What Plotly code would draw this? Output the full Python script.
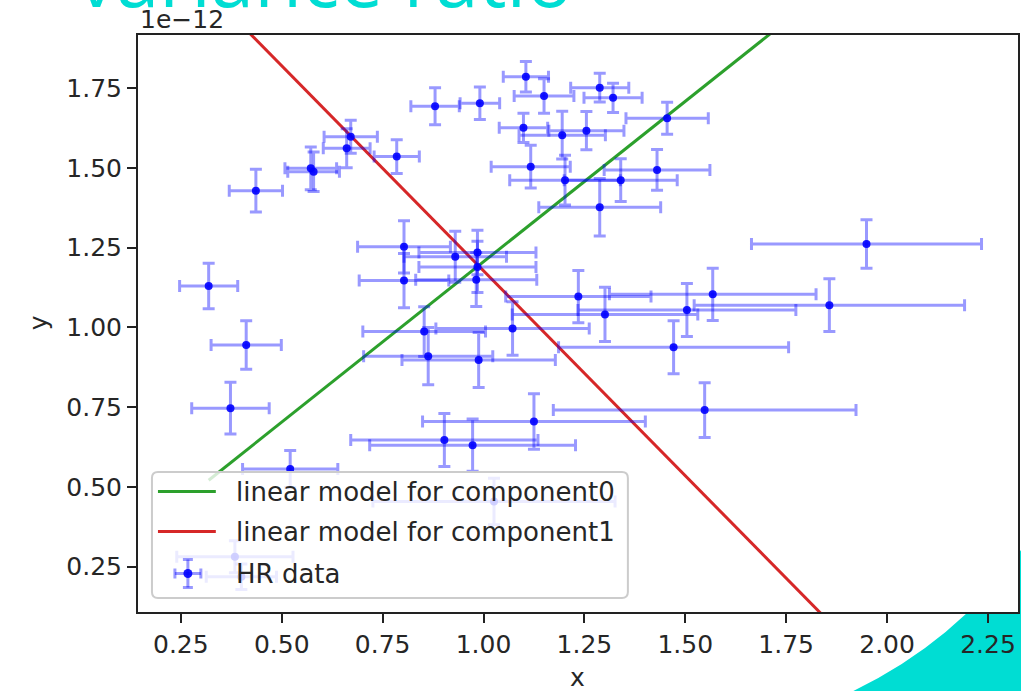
import plotly.graph_objects as go

# ---- HR data (y in units of 1e-12) ----
x_vals = [0.436, 0.319, 0.572, 0.579, 0.671, 0.661, 0.785, 0.880, 0.803, 0.803,
          0.930, 0.985, 0.985, 0.982, 1.105, 1.150, 0.991, 1.288, 1.321, 1.099,
          1.195, 1.255, 1.455, 1.117, 1.202, 1.340, 1.430, 1.288, 1.949, 1.857,
          1.235, 1.568, 1.301, 1.504, 1.072, 0.988, 0.853, 0.863, 1.471, 1.548,
          1.125, 0.903, 0.973, 1.026, 0.412, 0.373, 0.521, 0.384, 0.400]
y_vals = [1.429, 1.130, 1.499, 1.488, 1.598, 1.562, 1.536, 1.694, 1.253, 1.147,
          1.222, 1.235, 1.190, 1.150, 1.786, 1.726, 1.703, 1.752, 1.720, 1.626,
          1.603, 1.617, 1.656, 1.504, 1.462, 1.462, 1.494, 1.377, 1.262, 1.070,
          1.097, 1.104, 1.041, 1.055, 0.997, 0.898, 0.987, 0.910, 0.938, 0.741,
          0.705, 0.647, 0.631, 0.454, 0.945, 0.747, 0.556, 0.281, 0.218]
x_err = [0.066, 0.072, 0.064, 0.064, 0.066, 0.058, 0.056, 0.060, 0.115, 0.111,
         0.127, 0.145, 0.145, 0.150, 0.056, 0.074, 0.049, 0.072, 0.072, 0.060,
         0.107, 0.093, 0.102, 0.098, 0.137, 0.140, 0.131, 0.151, 0.285, 0.335,
         0.180, 0.256, 0.230, 0.270, 0.190, 0.190, 0.152, 0.160, 0.285, 0.375,
         0.276, 0.232, 0.255, 0.300, 0.087, 0.096, 0.118, 0.144, 0.087]
y_err = [0.067, 0.071, 0.067, 0.062, 0.052, 0.061, 0.053, 0.058, 0.082, 0.085,
         0.080, 0.070, 0.080, 0.084, 0.048, 0.054, 0.051, 0.045, 0.046, 0.046,
         0.075, 0.060, 0.050, 0.067, 0.078, 0.067, 0.064, 0.090, 0.076, 0.083,
         0.082, 0.082, 0.085, 0.083, 0.084, 0.086, 0.078, 0.090, 0.083, 0.086,
         0.087, 0.083, 0.082, 0.073, 0.076, 0.081, 0.058, 0.050, 0.040]

# ---- linear models evaluated at the data x extent ----
line_x = [0.319, 1.949]
comp0_y = [0.521, 2.161]
comp1_y = [2.053, -0.042]

x_ticks = [0.25, 0.50, 0.75, 1.00, 1.25, 1.50, 1.75, 2.00, 2.25]
y_ticks = [0.25, 0.50, 0.75, 1.00, 1.25, 1.50, 1.75]

legend_labels = ["linear model for component0", "linear model for component1", "HR data"]

W, H = 1023, 691
L, R, T, B = 138, 1020, 35, 612   # plot area edges in px
FONT = "DejaVu Sans"
TEXT = "#262626"
CYAN = "#00DDD3"
GREEN, RED = "#2ca02c", "#d62728"
BAR = "rgba(0,0,255,0.4)"


def px(xp):
    return (xp - L) / (R - L)


def py(yp):
    return (B - yp) / (B - T)


fig = go.Figure()
fig.add_trace(go.Scatter(x=line_x, y=comp0_y, mode="lines",
                         line=dict(color=GREEN, width=3), name=legend_labels[0]))
fig.add_trace(go.Scatter(x=line_x, y=comp1_y, mode="lines",
                         line=dict(color=RED, width=3), name=legend_labels[1]))
fig.add_trace(go.Scatter(
    x=x_vals, y=y_vals, mode="markers", name=legend_labels[2],
    marker=dict(color="rgba(0,0,255,0.9)", size=8),
    error_x=dict(type="data", array=x_err, color=BAR, thickness=3, width=6),
    error_y=dict(type="data", array=y_err, color=BAR, thickness=3, width=6),
))

axis_common = dict(showline=True, linecolor="#222", linewidth=2, mirror=True,
                   ticks="outside", ticklen=9, tickwidth=2, tickcolor="#222",
                   showgrid=False, zeroline=False,
                   tickfont=dict(family=FONT, size=25, color=TEXT))
fig.update_xaxes(range=[0.1439, 2.3244], tickvals=x_ticks,
                 ticktext=[f"{v:.2f}" for v in x_ticks], **axis_common)
fig.update_yaxes(range=[0.1078, 1.9171], tickvals=y_ticks,
                 ticktext=[f"{v:.2f}" for v in y_ticks], **axis_common)

# ---- legend box drawn by hand (lower left, semi-transparent frame) ----
bx0, bx1, by0, by1, rr = 152, 629, 472, 598, 6
frame_path = (
    f"M {px(bx0 + rr)},{py(by0)} L {px(bx1 - rr)},{py(by0)} "
    f"Q {px(bx1)},{py(by0)} {px(bx1)},{py(by0 + rr)} "
    f"L {px(bx1)},{py(by1 - rr)} Q {px(bx1)},{py(by1)} {px(bx1 - rr)},{py(by1)} "
    f"L {px(bx0 + rr)},{py(by1)} Q {px(bx0)},{py(by1)} {px(bx0)},{py(by1 - rr)} "
    f"L {px(bx0)},{py(by0 + rr)} Q {px(bx0)},{py(by0)} {px(bx0 + rr)},{py(by0)} Z"
)
row_y = [491.5, 531.5, 573.5]
legend_shapes = [
    dict(type="path", xref="paper", yref="paper", layer="above", path=frame_path,
         fillcolor="rgba(255,255,255,0.8)", line=dict(color="#cccccc", width=2)),
    dict(type="line", xref="paper", yref="paper", layer="above",
         x0=px(158), x1=px(216), y0=py(row_y[0]), y1=py(row_y[0]),
         line=dict(color=GREEN, width=3)),
    dict(type="line", xref="paper", yref="paper", layer="above",
         x0=px(158), x1=px(216), y0=py(row_y[1]), y1=py(row_y[1]),
         line=dict(color=RED, width=3)),
]
# errorbar glyph for the data entry
cx, cy, hx, hy, cap = 188, row_y[2], 13, 14, 5
legend_shapes += [
    dict(type="line", xref="paper", yref="paper", layer="above",
         x0=px(cx - hx), x1=px(cx + hx), y0=py(cy), y1=py(cy), line=dict(color=BAR, width=3)),
    dict(type="line", xref="paper", yref="paper", layer="above",
         x0=px(cx), x1=px(cx), y0=py(cy - hy), y1=py(cy + hy), line=dict(color=BAR, width=3)),
    dict(type="line", xref="paper", yref="paper", layer="above",
         x0=px(cx - cap), x1=px(cx + cap), y0=py(cy - hy), y1=py(cy - hy), line=dict(color=BAR, width=3)),
    dict(type="line", xref="paper", yref="paper", layer="above",
         x0=px(cx - cap), x1=px(cx + cap), y0=py(cy + hy), y1=py(cy + hy), line=dict(color=BAR, width=3)),
    dict(type="line", xref="paper", yref="paper", layer="above",
         x0=px(cx - hx), x1=px(cx - hx), y0=py(cy - cap), y1=py(cy + cap), line=dict(color=BAR, width=3)),
    dict(type="line", xref="paper", yref="paper", layer="above",
         x0=px(cx + hx), x1=px(cx + hx), y0=py(cy - cap), y1=py(cy + cap), line=dict(color=BAR, width=3)),
    dict(type="circle", xref="paper", yref="paper", layer="above",
         x0=px(cx - 4.5), x1=px(cx + 4.5), y0=py(cy + 4.5), y1=py(cy - 4.5),
         fillcolor="rgba(0,0,255,0.9)", line=dict(width=0)),
]
legend_texts = [
    dict(text=lab, xref="paper", yref="paper", x=px(234), y=py(yy),
         xanchor="left", yanchor="middle", showarrow=False,
         font=dict(family=FONT, size=26, color=TEXT))
    for lab, yy in zip(legend_labels, row_y)
]

fig.update_layout(
    width=W, height=H,
    margin=dict(l=L, r=W - R, t=T, b=H - B, pad=0),
    paper_bgcolor="white", plot_bgcolor="white",
    showlegend=False,
    shapes=[
        # cyan slide decoration behind the figure
        dict(type="path", xref="paper", yref="paper", layer="below",
             path=(f"M {px(855)},{py(691)} Q {px(960)},{py(640)} {px(1023)},{py(550)} "
                   f"L {px(1023)},{py(691)} Z"),
             fillcolor=CYAN, line=dict(width=0)),
        dict(type="rect", xref="paper", yref="paper", layer="below",
             x0=0, x1=1, y0=0, y1=1, fillcolor="white", line=dict(width=0)),
    ] + legend_shapes,
    annotations=[
        dict(text="variance ratio", xref="paper", yref="paper",
             x=px(75), y=py(-23), xanchor="left", yanchor="middle",
             showarrow=False, font=dict(family="Open Sans", size=78, color=CYAN)),
        dict(text="1e\u221212", xref="paper", yref="paper", x=0, y=py(19),
             xanchor="left", yanchor="middle", showarrow=False,
             font=dict(family=FONT, size=25, color=TEXT)),
        dict(text="y", xref="paper", yref="paper", x=px(38), y=py(323),
             textangle=-90, xanchor="center", yanchor="middle", showarrow=False,
             font=dict(family=FONT, size=25, color=TEXT)),
        dict(text="x", xref="paper", yref="paper", x=px(578), y=py(677),
             xanchor="center", yanchor="middle", showarrow=False,
             font=dict(family=FONT, size=25, color=TEXT)),
    ] + legend_texts,
)

fig.write_html("out.html")
